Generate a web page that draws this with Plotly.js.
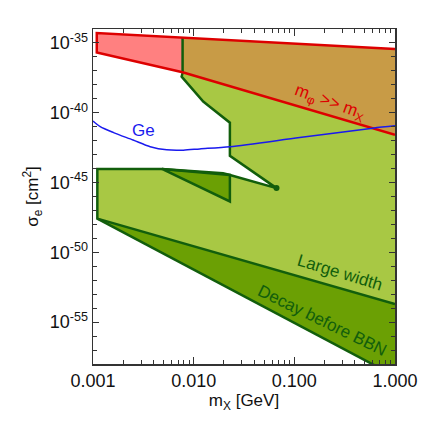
<!DOCTYPE html>
<html>
<head>
<meta charset="utf-8">
<script src="https://cdn.plot.ly/plotly-3.0.1.min.js"></script>
<style>
  html, body { margin: 0; padding: 0; background: #fff; }
  #chart { width: 423px; height: 423px; }
</style>
</head>
<body>
<div id="chart"></div>
<script>
// region boundaries: mass in GeV, cross section in cm^2

// m_phi >> m_X band (red)
var redMass  = [0.00109, 1.0, 1.0, 0.00776, 0.00109];
var redSigma = [5.1e-35, 3.7e-36, 2.6e-42, 7.9e-38, 2.1e-36];
var redKinkTop = 2.4e-35;   // top line at the kink mass 0.00776

// large width region (light green), outlined clockwise from the top
var greenMass  = [0.00776, 1.0, 1.0, 0.001104, 0.001104, 0.00484, 0.0196, 0.0229, 0.0665, 0.0229, 0.0229, 0.01374, 0.01245, 0.00759, 0.00776];
var greenSigma = [2.4e-35, 3.7e-36, 2.0e-54, 2.6e-48, 9.5e-45, 9.5e-45, 4.7e-45, 3.5e-45, 4.0e-46, 8.1e-44, 1.95e-41, 3.6e-40, 6.3e-40, 3.9e-38, 7.1e-38];

// small dark triangle inside the notch
var triMass  = [0.00484, 0.0229, 0.0229, 0.00484];
var triSigma = [9.5e-45, 3.5e-45, 4.4e-47, 9.5e-45];

// decay before BBN band (dark green)
var bbnMass  = [0.001104, 1.0, 1.0, 0.001104];
var bbnSigma = [2.6e-48, 2.0e-54, 1.35e-59, 2.6e-48];

// Ge direct detection limit
var geMass  = [0.001, 0.00118, 0.0016, 0.0025, 0.0037, 0.0054, 0.0079, 0.0115, 0.023, 0.113, 0.6, 1.0];
var geSigma = [2.57e-41, 1.02e-41, 3.8e-42, 1.12e-42, 3.7e-43, 2.19e-43, 2.09e-43, 2.57e-43, 3.7e-43, 1.66e-42, 7.8e-42, 1.15e-41];

var xTickVals = [0.001, 0.01, 0.1, 1];
var xTickText = ['0.001', '0.010', '0.100', '1.000'];
var yTickVals = [1e-35, 1e-40, 1e-45, 1e-50, 1e-55];
var yTickText = ['10<sup>-35</sup>', '10<sup>-40</sup>', '10<sup>-45</sup>', '10<sup>-50</sup>', '10<sup>-55</sup>'];

var darkGreen = '#125e0c';
var redLine = '#dd0000';

function pick(arr, idx) {
    var out = [];
    for (var i = 0; i < idx.length; i++) out.push(arr[idx[i]]);
    return out;
}

// minor ticks: 2..9 per decade on x, every decade on y
var xMinor = [];
for (var d = -3; d < 0; d++) {
    for (var k = 2; k <= 9; k++) xMinor.push(k * Math.pow(10, d));
}
var yMinor = [];
for (var e = -34; e >= -58; e--) {
    if (e % 5 !== 0) yMinor.push(Math.pow(10, e));
}

var fill = function(xs, ys, color) {
    return { x: xs, y: ys, mode: 'lines', fill: 'toself', fillcolor: color,
             line: { width: 0 }, hoverinfo: 'skip' };
};
var edge = function(xs, ys, color, width) {
    return { x: xs, y: ys, mode: 'lines', line: { color: color, width: width },
             hoverinfo: 'skip' };
};

// pink part left of the kink, overlap (brown) to the right of it
var pinkX = [redMass[0], redMass[3], redMass[3], redMass[4]];
var pinkY = [redSigma[0], redKinkTop, redSigma[3], redSigma[4]];
var brownX = [redMass[3], redMass[1], redMass[2], redMass[3]];
var brownY = [redKinkTop, redSigma[1], redSigma[2], redSigma[3]];

// green outline skips the edges that sit on the frame or under the red line
var gOut = [0, 14, 13, 12, 11, 10, 9, 8, 7, 6, 5, 4, 3, 2];
var gOutX = pick(greenMass, gOut);
var gOutY = pick(greenSigma, gOut);

var redOutX = [redMass[1], redMass[0], redMass[4], redMass[3], redMass[2]];
var redOutY = [redSigma[1], redSigma[0], redSigma[4], redSigma[3], redSigma[2]];

var data = [
    fill(greenMass, greenSigma, '#a8c844'),
    fill(bbnMass, bbnSigma, '#6ba004'),
    fill(triMass, triSigma, '#6ba004'),
    fill(brownX, brownY, '#c89b46'),
    fill(pinkX, pinkY, '#ff8080'),
    edge(gOutX, gOutY, darkGreen, 2.5),
    edge(triMass, triSigma, darkGreen, 2.5),
    edge([bbnMass[0], bbnMass[2]], [bbnSigma[0], bbnSigma[2]], darkGreen, 2.5),
    { x: [greenMass[8]], y: [greenSigma[8]], mode: 'markers',
      marker: { color: darkGreen, size: 6 }, hoverinfo: 'skip' },
    edge(redOutX, redOutY, redLine, 2.5),
    { x: geMass, y: geSigma, mode: 'lines', line: { color: '#1a1aee', width: 1.5, shape: 'spline', smoothing: 0.8 },
      hoverinfo: 'skip' }
];

var axisCommon = {
    type: 'log',
    showgrid: false,
    zeroline: false,
    showline: true,
    linecolor: '#333',
    linewidth: 1.5,
    mirror: 'ticks',
    ticks: 'inside',
    tickcolor: '#333',
    tickwidth: 1,
    tickmode: 'array',
    tickfont: { size: 18, color: '#111' }
};

var layout = {
    width: 423,
    height: 423,
    margin: { l: 93, r: 28, t: 29, b: 59 },
    paper_bgcolor: '#fff',
    plot_bgcolor: '#fff',
    showlegend: false,
    font: { family: 'Liberation Sans, Arial, sans-serif', color: '#111' },
    xaxis: Object.assign({}, axisCommon, {
        range: [-3, 0],
        tickvals: xTickVals,
        ticktext: xTickText,
        ticklen: 7,
        minor: { tickmode: 'array', tickvals: xMinor, ticks: 'inside', ticklen: 4, tickcolor: '#333' },
        title: { text: 'm<sub>X</sub> [GeV]', font: { size: 17 }, standoff: 4 }
    }),
    yaxis: Object.assign({}, axisCommon, {
        range: [-58, -34],
        tickvals: yTickVals,
        ticktext: yTickText,
        ticklen: 6,
        minor: { tickmode: 'array', tickvals: yMinor, ticks: 'inside', ticklen: 4, tickcolor: '#333' },
        title: { text: 'σ<sub>e</sub> [cm<sup>2</sup>]', font: { size: 17 }, standoff: 6 }
    }),
    annotations: [
        { x: -2.494, y: -41.30, text: 'Ge', showarrow: false,
          font: { size: 17, color: '#1a1aee' } },
        { x: -0.648, y: -39.30, text: 'm<sub>φ</sub> &gt;&gt; m<sub>X</sub>', showarrow: false,
          textangle: 20, font: { size: 17, color: redLine } },
        { x: -0.549, y: -51.43, text: 'Large width', showarrow: false,
          textangle: 17, font: { size: 17, color: darkGreen } },
        { x: -0.723, y: -54.87, text: 'Decay before BBN', showarrow: false,
          textangle: 26, font: { size: 17, color: darkGreen } }
    ]
};

Plotly.newPlot('chart', data, layout, { staticPlot: true });
</script>
</body>
</html>
